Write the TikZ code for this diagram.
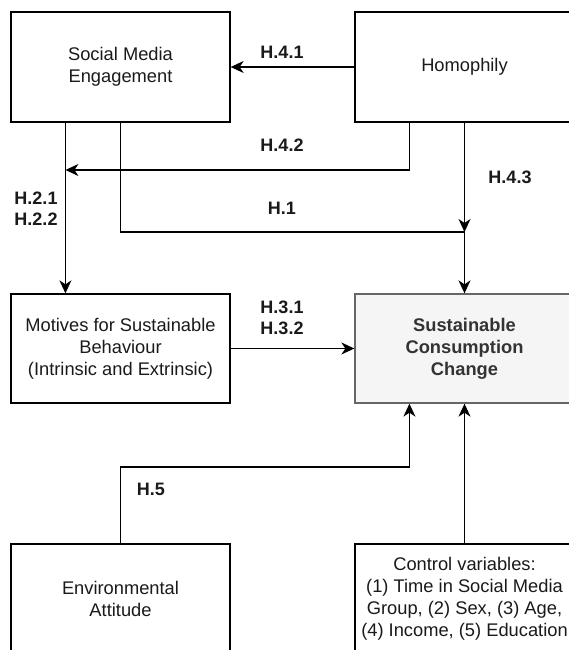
\documentclass[tikz,border=0pt]{standalone}
\usepackage{fontspec}
\setmainfont{Liberation Sans}
\usetikzlibrary{arrows.meta,calc}
\definecolor{sccfill}{HTML}{F5F5F5}
\definecolor{sccdraw}{HTML}{666666}
\definecolor{scctext}{HTML}{333333}
\definecolor{txt}{HTML}{1A1A1A}
\tikzset{
  box/.style={draw=black, line width=1.3pt, minimum width=219pt, minimum height=110pt,
    inner sep=0pt, align=center, font=\fontsize{18.3}{22}\selectfont, text=txt},
  sccbox/.style={box, fill=sccfill, draw=sccdraw, text=scctext, font=\bfseries\fontsize{18.3}{22}\selectfont},
  lbl/.style={font=\bfseries\fontsize{18}{21}\selectfont, align=center, inner sep=0pt, text=txt},
  arr/.style={-{Stealth[length=13pt,width=12pt,inset=4pt]}, line width=1.3pt},
  ln/.style={line width=1.3pt}
}
\begin{document}
\begin{tikzpicture}[x=1pt,y=-1pt]
\useasboundingbox (0,0) rectangle (569,650);
\clip (0,0) rectangle (569,650);
\fill[white] (0,0) rectangle (569,650);
% boxes
\node[box] (sme) at (120.5,67) {Social Media\\Engagement};
\node[box] (hom) at (464.5,67) {Homophily};
\node[box, minimum height=109pt] (mot) at (120.5,348.5) {Motives for Sustainable\\Behaviour\\(Intrinsic and Extrinsic)};
\node[sccbox, minimum height=109pt] (scc) at (464.5,348.5) {Sustainable\\Consumption\\Change};
\node[box] (env) at (120.5,599) {Environmental\\Attitude};
\node[box] (ctl) at (464.5,599) {Control variables:\\(1) Time in Social Media\\Group, (2) Sex, (3) Age,\\(4) Income, (5) Education};
% helper coordinates
\coordinate (smeq) at ($(sme.south west)!0.25!(sme.south east)$);
\coordinate (motq) at ($(mot.north west)!0.25!(mot.north east)$);
\coordinate (homq) at ($(hom.south west)!0.25!(hom.south east)$);
\coordinate (sccq) at ($(scc.south west)!0.25!(scc.south east)$);
\coordinate (j42) at (smeq |- 0,170);
\coordinate (j1) at (scc.north |- 0,232);
\coordinate (j5) at (0,467);
% connectors
\draw[arr] (hom.west) -- (sme.east);
\draw[arr] (homq) |- (j42);
\draw[arr] (smeq) -- (motq);
\draw[arr] (sme.south) |- (j1) -- (scc.north);
\draw[arr] (hom.south) -- (j1);
\draw[arr] (mot.east) -- (scc.west);
\draw[arr] (env.north) |- (sccq |- j5) -- (sccq);
\draw[arr] (ctl.north) -- (scc.south);
% labels
\node[lbl] (l41) at (282,52) {H.4.1};
\node[lbl] (l42) at (282,145) {H.4.2};
\node[lbl] (l2) at (36,209) {H.2.1\\H.2.2};
\node[lbl] (l1) at (282,208) {H.1};
\node[lbl] (l43) at (510,177) {H.4.3};
\node[lbl] (l3) at (282,318) {H.3.1\\H.3.2};
\node[lbl] (l5) at (151,489) {H.5};
\end{tikzpicture}
\end{document}
